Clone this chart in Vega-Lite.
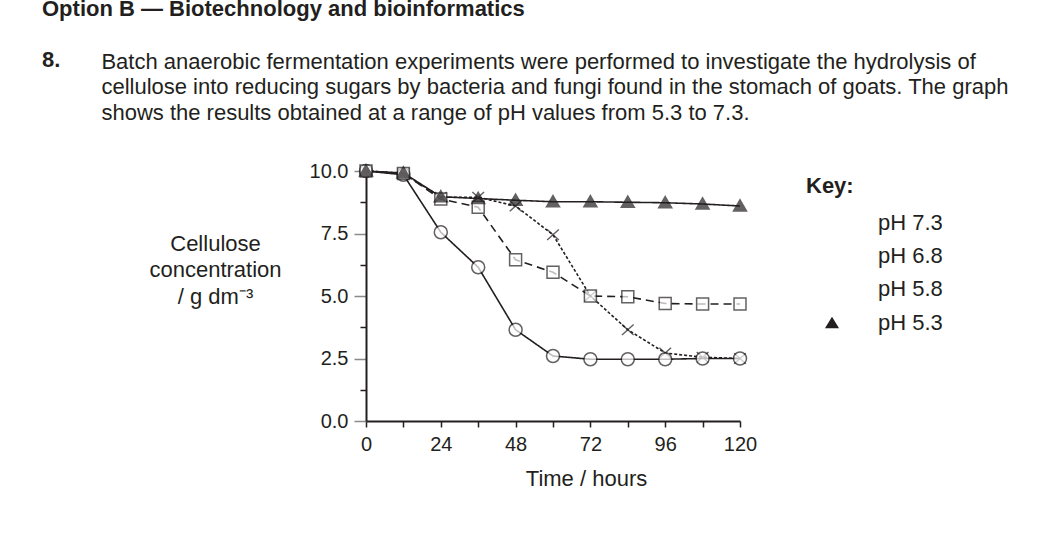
{
  "$schema": "https://vega.github.io/schema/vega-lite/v6.json",
  "width": 374,
  "height": 250,
  "padding": {"left": 42, "top": -2, "right": 0, "bottom": 0},
  "background": "white",
  "config": {
    "font": "Liberation Sans",
    "view": {"stroke": null},
    "axis": {
      "labelFont": "Liberation Sans",
      "titleFont": "Liberation Sans",
      "labelFontSize": 20,
      "titleFontSize": 22,
      "titleFontWeight": "normal",
      "labelColor": "#231f20",
      "titleColor": "#231f20",
      "domainColor": "#231f20",
      "domainWidth": 2,
      "tickColor": "#231f20",
      "tickWidth": 1.5,
      "grid": false
    },
    "legend": {
      "orient": "none",
      "legendX": 440,
      "legendY": 5,
      "padding": 0,
      "titleFont": "Liberation Sans",
      "titleFontSize": 22,
      "titleFontWeight": "bold",
      "titleColor": "#231f20",
      "titlePadding": 12.5,
      "labelFont": "Liberation Sans",
      "labelFontSize": 22,
      "labelColor": "#231f20",
      "labelOffset": 34,
      "symbolOffset": 14,
      "symbolSize": 484,
      "symbolStrokeWidth": 1.6,
      "symbolStrokeColor": "#231f20",
      "symbolOpacity": 1,
      "rowPadding": 10.4
    }
  },
  "title": {
    "text": ["Option B — Biotechnology and bioinformatics", "\u200b", "8."],
    "subtitle": [
      "\u200b\u2002\u2002\u2002\u2002\u2002\u2009Batch anaerobic fermentation experiments were performed to investigate the hydrolysis of",
      "\u200b\u2002\u2002\u2002\u2002\u2002\u2009cellulose into reducing sugars by bacteria and fungi found in the stomach of goats. The graph",
      "\u200b\u2002\u2002\u2002\u2002\u2002\u2009shows the results obtained at a range of pH values from 5.3 to 7.3."
    ],
    "anchor": "start",
    "frame": "group",
    "dx": -324,
    "font": "Liberation Sans",
    "fontSize": 22,
    "fontWeight": "bold",
    "lineHeight": 25.5,
    "color": "#231f20",
    "subtitleFont": "Liberation Sans",
    "subtitleFontSize": 22,
    "subtitleLineHeight": 25.5,
    "subtitleColor": "#231f20",
    "subtitlePadding": -20.5,
    "offset": 36.5
  },
  "data": {
    "values": [
      {"ph": "pH 7.3", "t": 0, "c": 10.0},
      {"ph": "pH 7.3", "t": 12, "c": 9.9},
      {"ph": "pH 7.3", "t": 24, "c": 8.95},
      {"ph": "pH 7.3", "t": 36, "c": 8.95},
      {"ph": "pH 7.3", "t": 48, "c": 8.6},
      {"ph": "pH 7.3", "t": 60, "c": 7.45},
      {"ph": "pH 7.3", "t": 72, "c": 5.0},
      {"ph": "pH 7.3", "t": 84, "c": 3.65},
      {"ph": "pH 7.3", "t": 96, "c": 2.72},
      {"ph": "pH 7.3", "t": 108, "c": 2.55},
      {"ph": "pH 7.3", "t": 120, "c": 2.5},
      {"ph": "pH 6.8", "t": 0, "c": 10.0},
      {"ph": "pH 6.8", "t": 12, "c": 9.85},
      {"ph": "pH 6.8", "t": 24, "c": 7.55},
      {"ph": "pH 6.8", "t": 36, "c": 6.15},
      {"ph": "pH 6.8", "t": 48, "c": 3.65},
      {"ph": "pH 6.8", "t": 60, "c": 2.6},
      {"ph": "pH 6.8", "t": 72, "c": 2.47},
      {"ph": "pH 6.8", "t": 84, "c": 2.47},
      {"ph": "pH 6.8", "t": 96, "c": 2.47},
      {"ph": "pH 6.8", "t": 108, "c": 2.5},
      {"ph": "pH 6.8", "t": 120, "c": 2.5},
      {"ph": "pH 5.8", "t": 0, "c": 10.0},
      {"ph": "pH 5.8", "t": 12, "c": 9.9},
      {"ph": "pH 5.8", "t": 24, "c": 8.88},
      {"ph": "pH 5.8", "t": 36, "c": 8.55},
      {"ph": "pH 5.8", "t": 48, "c": 6.45},
      {"ph": "pH 5.8", "t": 60, "c": 5.95},
      {"ph": "pH 5.8", "t": 72, "c": 5.0},
      {"ph": "pH 5.8", "t": 84, "c": 4.97},
      {"ph": "pH 5.8", "t": 96, "c": 4.7},
      {"ph": "pH 5.8", "t": 108, "c": 4.68},
      {"ph": "pH 5.8", "t": 120, "c": 4.68},
      {"ph": "pH 5.3", "t": 0, "c": 10.0},
      {"ph": "pH 5.3", "t": 12, "c": 9.92},
      {"ph": "pH 5.3", "t": 24, "c": 8.97},
      {"ph": "pH 5.3", "t": 36, "c": 8.9},
      {"ph": "pH 5.3", "t": 48, "c": 8.83},
      {"ph": "pH 5.3", "t": 60, "c": 8.77},
      {"ph": "pH 5.3", "t": 72, "c": 8.77},
      {"ph": "pH 5.3", "t": 84, "c": 8.75},
      {"ph": "pH 5.3", "t": 96, "c": 8.73},
      {"ph": "pH 5.3", "t": 108, "c": 8.68},
      {"ph": "pH 5.3", "t": 120, "c": 8.6}
    ]
  },
  "encoding": {
    "x": {
      "field": "t",
      "type": "quantitative",
      "scale": {"domain": [0, 120], "nice": false, "zero": false},
      "axis": {
        "values": [0, 12, 24, 36, 48, 60, 72, 84, 96, 108, 120],
        "labelExpr": "datum.value % 24 === 0 ? datum.label : ''",
        "tickSize": 6,
        "labelPadding": 7,
        "labelFlush": false,
        "labelOverlap": false,
        "title": "Time / hours",
        "titleX": 220,
        "titleY": 64,
        "titleAlign": "center",
        "titleBaseline": "alphabetic"
      }
    },
    "y": {
      "field": "c",
      "type": "quantitative",
      "scale": {"domain": [0, 10], "nice": false},
      "axis": {
        "values": [0, 1.25, 2.5, 3.75, 5, 6.25, 7.5, 8.75, 10],
        "labelExpr": "datum.value % 2.5 === 0 ? format(datum.value, '.1f') : ''",
        "tickSize": {"condition": {"test": "datum.value % 2.5 === 0", "value": 12}, "value": 6},
        "tickColor": {"condition": {"test": "datum.value % 2.5 === 0", "value": "#8a8a8a"}, "value": "#231f20"},
        "labelPadding": 6,
        "labelFlush": false,
        "labelOverlap": false,
        "title": ["Cellulose", "concentration", "/ g dm⁻³"],
        "titleAngle": 0,
        "titleAlign": "center",
        "titleBaseline": "alphabetic",
        "titleX": -151,
        "titleY": 79,
        "titleLineHeight": 26.5
      }
    }
  },
  "resolve": {
    "scale": {"shape": "independent", "fill": "independent"},
    "legend": {"shape": "independent", "fill": "independent"}
  },
  "layer": [
    {
      "mark": {"type": "line", "stroke": "#231f20", "strokeWidth": 1.6},
      "encoding": {
        "strokeDash": {
          "field": "ph",
          "type": "nominal",
          "scale": {"domain": ["pH 7.3", "pH 6.8", "pH 5.8", "pH 5.3"], "range": [[3, 2], [1, 0], [8, 5], [1, 0]]},
          "legend": null
        }
      }
    },
    {
      "mark": {"type": "point", "filled": true, "stroke": "#231f20", "strokeWidth": 1.5, "size": 169},
      "encoding": {
        "shape": {
          "field": "ph",
          "type": "nominal",
          "scale": {
            "domain": ["pH 7.3", "pH 6.8", "pH 5.8", "pH 5.3"],
            "range": [
              "M-0.9,-0.8L0.9,0.8M-0.9,0.8L0.9,-0.8",
              "circle",
              "M-0.92,-0.92L0.92,-0.92L0.92,0.92L-0.92,0.92Z",
              "M0,-0.95L1,0.75L-1,0.75Z"
            ]
          },
          "legend": null
        },
        "fill": {
          "field": "ph",
          "type": "nominal",
          "scale": {"domain": ["pH 7.3", "pH 6.8", "pH 5.8", "pH 5.3"], "range": ["#231f20", "white", "white", "#231f20"]},
          "legend": null
        }
      }
    },
    {
      "mark": {"type": "point", "filled": true, "stroke": "#231f20", "strokeWidth": 1.6, "size": 484, "opacity": 0},
      "encoding": {
        "shape": {
          "field": "ph",
          "type": "nominal",
          "scale": {
            "domain": ["pH 7.3", "pH 6.8", "pH 5.8", "pH 5.3"],
            "range": [
              "M-2.27,0L-2,0M-1.82,0L-1.55,0M-1.36,0L-1.09,0M-0.91,0L-0.68,0M0.68,0L0.91,0M1.09,0L1.36,0M1.55,0L1.82,0M2,0L2.27,0M-0.55,-0.45L0.55,0.45M-0.55,0.45L0.55,-0.45",
              "M-2.27,0L-0.59,0M0.59,0L2.27,0M0.59,0A0.59,0.59,0,1,1,-0.59,0A0.59,0.59,0,1,1,0.59,0Z",
              "M-2.27,0L-1.68,0M-1.23,0L-0.55,0M0.55,0L1.23,0M1.68,0L2.27,0M-0.55,-0.55L0.55,-0.55L0.55,0.55L-0.55,0.55Z",
              "M-2.27,0L2.27,0M0,-0.55L0.64,0.5L-0.64,0.5Z"
            ]
          },
          "legend": {"title": "Key:"}
        },
        "fill": {
          "field": "ph",
          "type": "nominal",
          "scale": {"domain": ["pH 7.3", "pH 6.8", "pH 5.8", "pH 5.3"], "range": ["transparent", "white", "white", "#231f20"]},
          "legend": {"title": "Key:"}
        }
      }
    }
  ]
}
